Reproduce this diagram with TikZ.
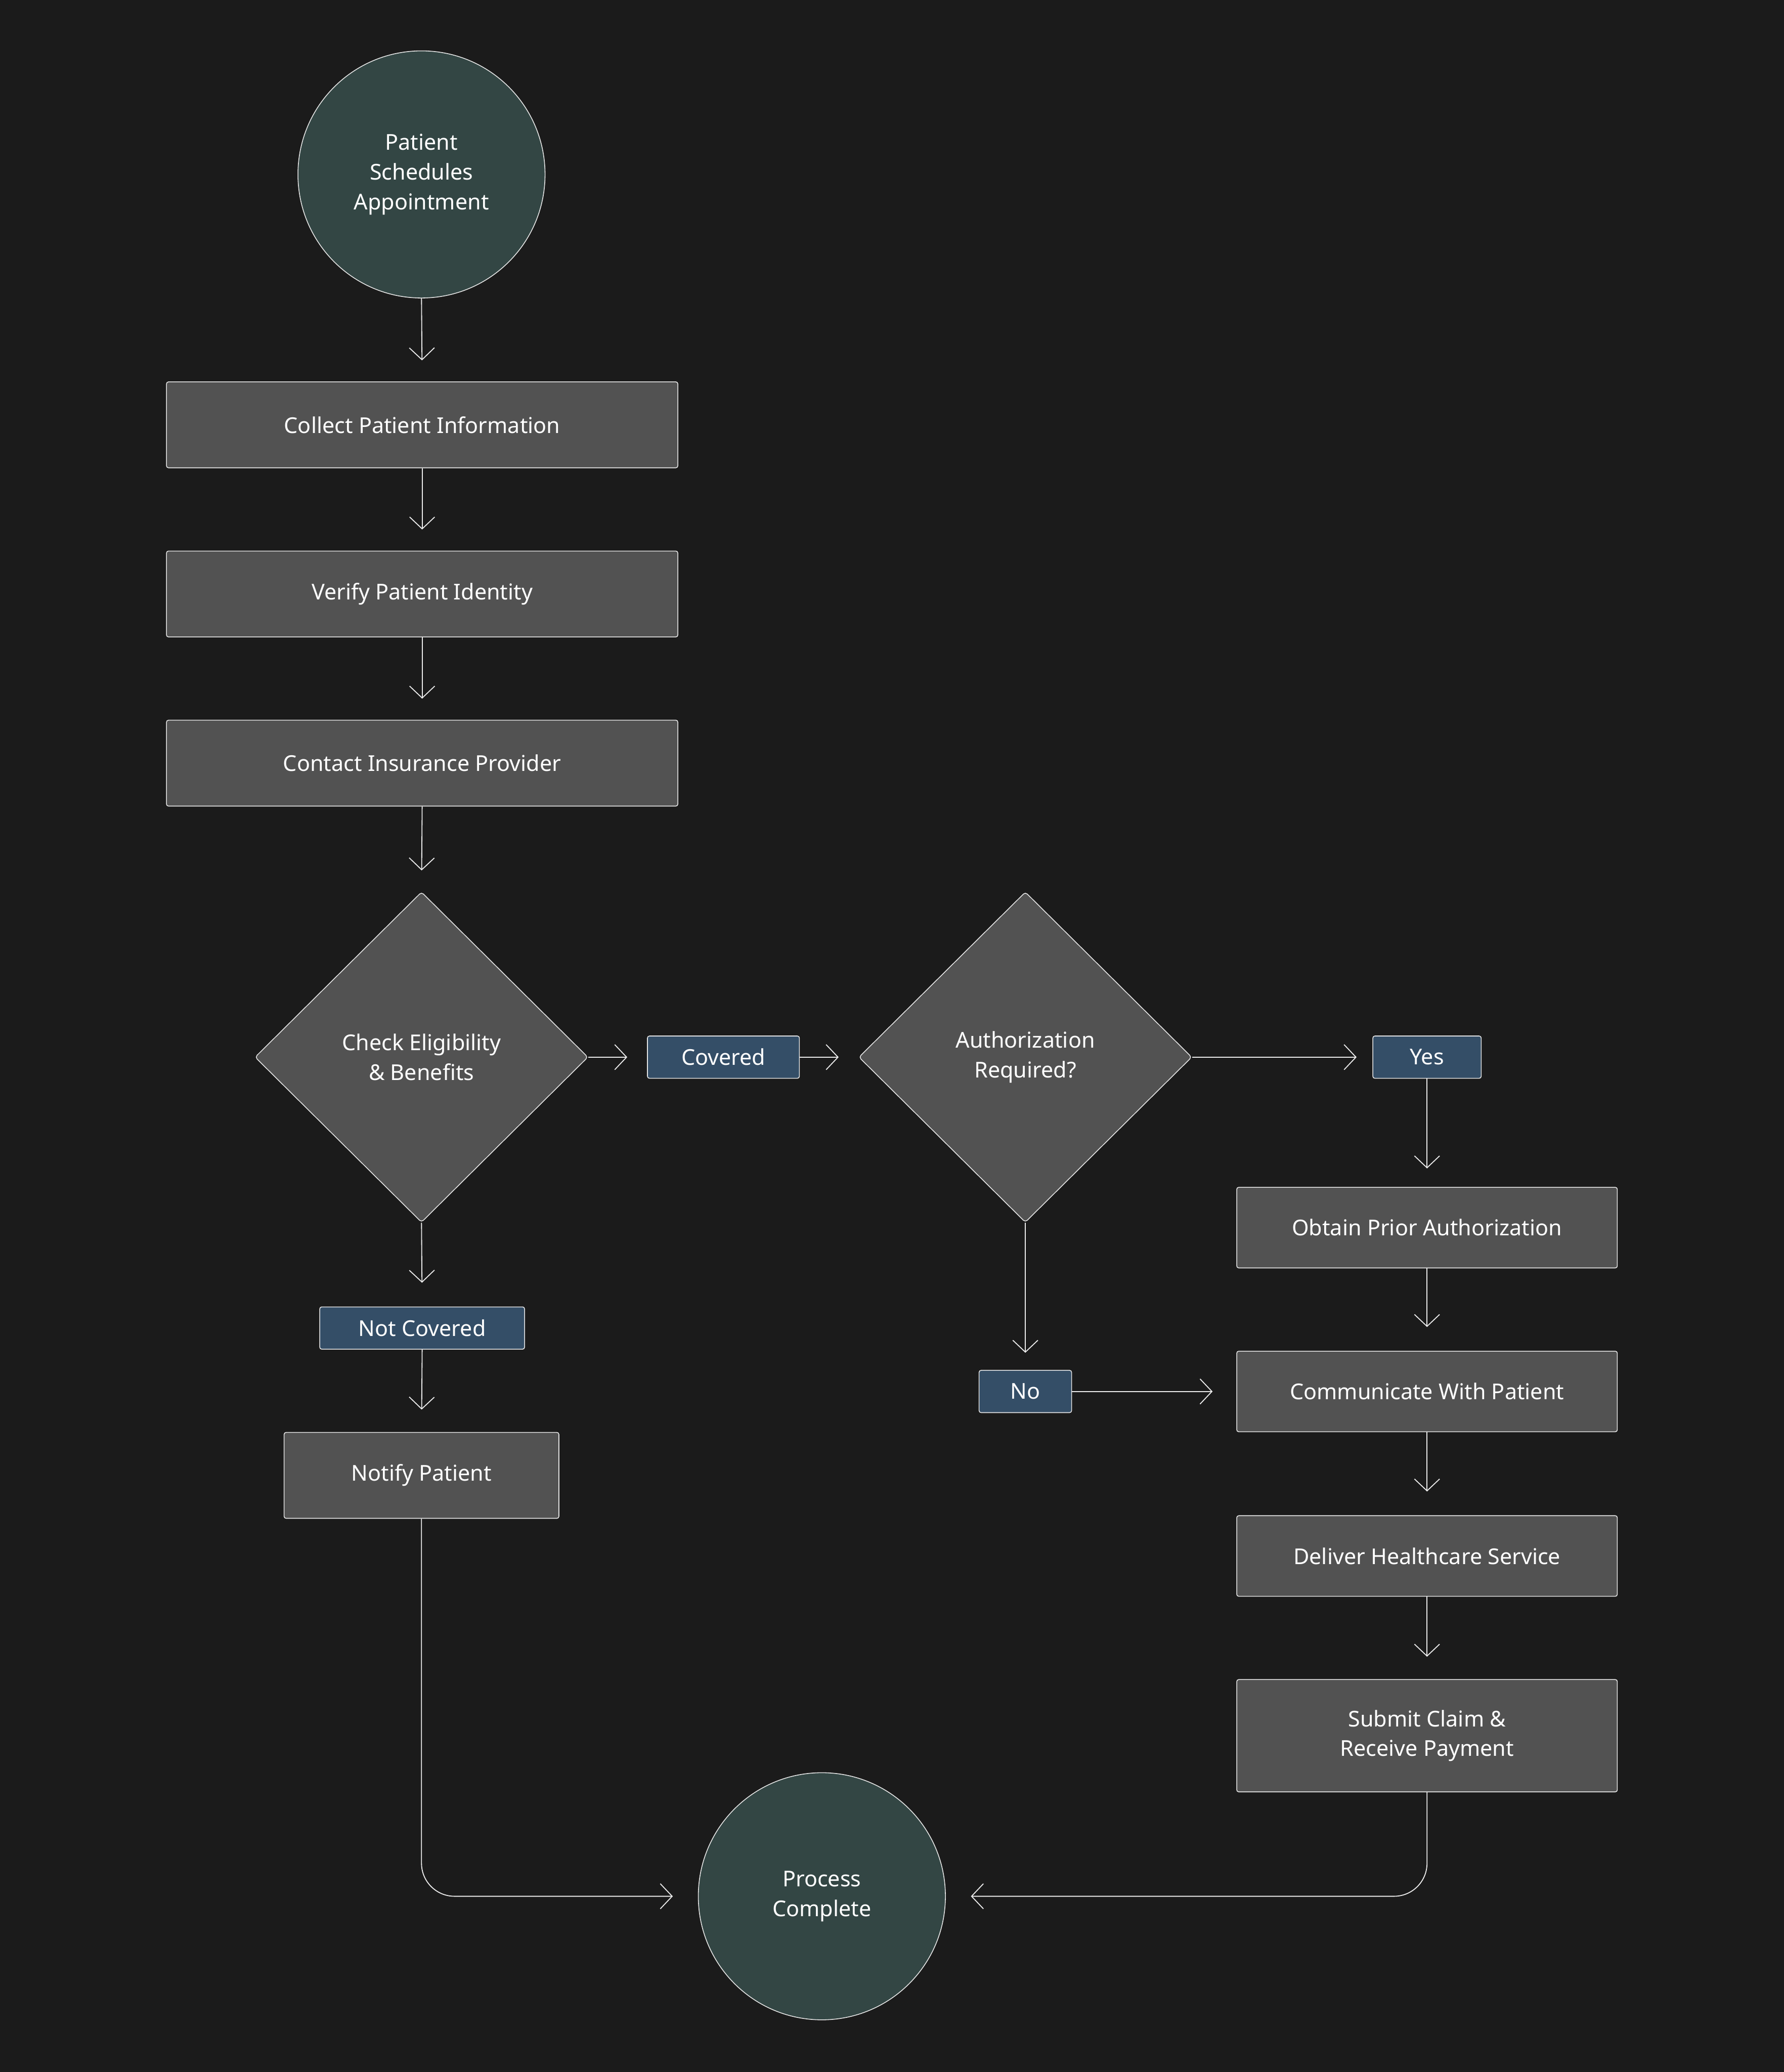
\documentclass[tikz,border=0pt]{standalone}
\usepackage{fontspec}
\setmainfont{Noto Sans}
\usetikzlibrary{shapes.geometric,arrows.meta}
\definecolor{bgc}{HTML}{1B1B1B}
\definecolor{boxc}{HTML}{525252}
\definecolor{termc}{HTML}{334644}
\definecolor{labc}{HTML}{344E67}
\definecolor{bordc}{HTML}{E6E6E6}
\definecolor{linec}{HTML}{EDEDED}
\begin{document}
\begin{tikzpicture}[x=1pt,y=-1pt,
  every node/.style={font=\fontsize{16.5}{22.5}\selectfont, text=white, align=center},
  proc/.style={draw=bordc, fill=boxc, line width=0.6pt, rounded corners=1.5pt, inner sep=0pt},
  term/.style={circle, draw=bordc, fill=termc, line width=0.6pt, minimum size=187pt, inner sep=0pt},
  dec/.style={diamond, draw=bordc, fill=boxc, line width=0.6pt, minimum width=252pt, minimum height=250pt, inner sep=0pt, rounded corners=2pt},
  lab/.style={draw=bordc, fill=labc, line width=0.6pt, rounded corners=1.5pt, inner sep=0pt, minimum height=32pt},
  conn/.style={draw=linec, line width=0.7pt, -{Straight Barb[length=9pt,width=19pt,line width=0.7pt]}, shorten >=16pt},
]
\fill[bgc] (0,0) rectangle (1350,1568);
\useasboundingbox (0,0) rectangle (1350,1568);

\node[term] (start) at (319,132) {Patient\\Schedules\\Appointment};
\node[proc, minimum width=387pt, minimum height=65pt] (collect) at (319.5,321.5) {Collect Patient Information};
\node[proc, minimum width=387pt, minimum height=65pt] (verify) at (319.5,449.5) {Verify Patient Identity};
\node[proc, minimum width=387pt, minimum height=65pt] (contact) at (319.5,577.5) {Contact Insurance Provider};
\node[dec] (d1) at (319,800) {Check Eligibility\\\& Benefits};
\node[lab, minimum width=115pt] (covered) at (547.5,800) {Covered};
\node[dec] (d2) at (776,800) {Authorization\\Required?};
\node[lab, minimum width=82pt] (yes) at (1080,800) {Yes};
\node[proc, minimum width=288pt, minimum height=61pt] (obtain) at (1080,929) {Obtain Prior Authorization};
\node[lab, minimum width=155pt] (notcov) at (319.5,1005) {Not Covered};
\node[lab, minimum width=70pt] (no) at (776,1053) {No};
\node[proc, minimum width=288pt, minimum height=61pt] (comm) at (1080,1053) {Communicate With Patient};
\node[proc, minimum width=208pt, minimum height=65pt] (notify) at (319,1116.5) {Notify Patient};
\node[proc, minimum width=288pt, minimum height=61pt] (deliver) at (1080,1177.5) {Deliver Healthcare Service};
\node[proc, minimum width=288pt, minimum height=85pt] (submit) at (1080,1313.5) {Submit Claim \&\\Receive Payment};
\node[term] (end) at (622,1435) {Process\\Complete};

\draw[conn] (start.south) -- (collect.north);
\draw[conn] (collect.south) -- (verify.north);
\draw[conn] (verify.south) -- (contact.north);
\draw[conn] (contact.south) -- (d1.north);
\draw[conn, shorten >=15pt] (d1.east) -- (covered.west);
\draw[conn, shorten >=15pt] (covered.east) -- (d2.west);
\draw[conn, shorten >=12pt] (d2.east) -- (yes.west);
\draw[conn, shorten >=14pt] (yes.south) -- (obtain.north);
\draw[conn, shorten >=18pt] (obtain.south) -- (comm.north);
\draw[conn, shorten >=18pt] (d1.south) -- (notcov.north);
\draw[conn, shorten >=17pt] (notcov.south) -- (notify.north);
\draw[conn, shorten >=13pt] (d2.south) -- (no.north);
\draw[conn, shorten >=18pt] (no.east) -- (comm.west);
\draw[conn, shorten >=18pt] (comm.south) -- (deliver.north);
\draw[conn, shorten >=17pt] (deliver.south) -- (submit.north);
\draw[conn, rounded corners=25pt, shorten >=19pt] (notify.south) |- (end.west);
\draw[conn, rounded corners=25pt, shorten >=19pt] (submit.south) |- (end.east);
\end{tikzpicture}
\end{document}
